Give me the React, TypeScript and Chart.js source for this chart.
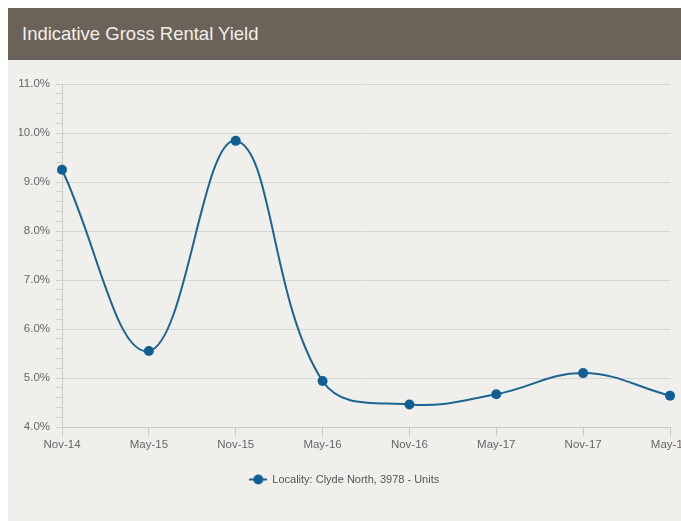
import React, { useEffect, useRef } from 'react';
import { Chart, registerables } from 'chart.js';

Chart.register(...registerables);

const chartTitle = 'Indicative Gross Rental Yield';
const categories = ['Nov-14', 'May-15', 'Nov-15', 'May-16', 'Nov-16', 'May-17', 'Nov-17', 'May-18'];
const yieldValues = [9.25, 5.55, 9.84, 4.94, 4.46, 4.67, 5.1, 4.64];
const seriesLabel = 'Locality: Clyde North, 3978 - Units';
const yMin = 4;
const yMax = 11;
const yMinorStep = 0.2;

const FONT = '"Liberation Sans", Arial, Helvetica, sans-serif';
const LINE_COLOR = '#1d6493';
const POINT_COLOR = '#0f5f93';

function isMajor(v: number) {
  return Math.abs(v - Math.round(v)) < 1e-6;
}

export default function App() {
  const ref = useRef<HTMLCanvasElement | null>(null);

  useEffect(() => {
    document.documentElement.style.overflow = 'hidden';
    document.body.style.overflow = 'hidden';
    if (!ref.current) return;
    const sym = document.createElement('canvas');
    sym.width = 18;
    sym.height = 11;
    const sc = sym.getContext('2d')!;
    sc.strokeStyle = LINE_COLOR;
    sc.lineWidth = 2;
    sc.beginPath();
    sc.moveTo(0, 5.5);
    sc.lineTo(18, 5.5);
    sc.stroke();
    sc.fillStyle = POINT_COLOR;
    sc.beginPath();
    sc.arc(9, 5.5, 5, 0, Math.PI * 2);
    sc.fill();

    const chart = new Chart(ref.current, {
      type: 'line',
      data: {
        labels: categories,
        datasets: [
          {
            label: seriesLabel,
            data: yieldValues,
            borderColor: LINE_COLOR,
            backgroundColor: POINT_COLOR,
            borderWidth: 2,
            tension: 0.4,
            pointRadius: 5,
            pointBackgroundColor: POINT_COLOR,
            pointBorderColor: POINT_COLOR,
            pointBorderWidth: 0,
            fill: false,
          },
        ],
      },
      options: {
        animation: false,
        responsive: false,
        devicePixelRatio: 1,
        layout: { padding: { left: 11, right: 58, top: 24, bottom: 26 } },
        plugins: {
          title: { display: false },
          tooltip: { enabled: false },
          legend: {
            display: true,
            position: 'bottom',
            labels: {
              usePointStyle: true,
              pointStyleWidth: 17,
              padding: 10,
              color: '#555',
              font: { family: FONT, size: 11 },
              generateLabels: (c: any) => {
                const items = Chart.defaults.plugins.legend.labels.generateLabels(c);
                return items.map((it: any) => ({ ...it, pointStyle: sym }));
              },
            },
          },
        },
        scales: {
          x: {
            type: 'category',
            offset: false,
            afterFit: (s: any) => {
              s.height = 37;
            },
            grid: {
              display: true,
              drawOnChartArea: false,
              drawTicks: true,
              tickLength: 9,
              color: '#c9c9c5',
            },
            border: { display: true, color: '#c9c9c5' },
            ticks: {
              color: '#666',
              padding: 2,
              maxRotation: 0,
              autoSkip: false,
              font: { family: FONT, size: 11.5 },
            },
          },
          y: {
            min: yMin,
            max: yMax,
            afterFit: (s: any) => {
              s.width = 43;
            },
            grid: {
              display: true,
              drawTicks: true,
              tickLength: 6,
              color: (ctx: any) => (ctx.tick && isMajor(ctx.tick.value) ? '#d6d6d2' : 'rgba(0,0,0,0)'),
              tickColor: '#cfcfcb',
            },
            border: { display: true, color: '#c9c9c5' },
            ticks: {
              stepSize: yMinorStep,
              autoSkip: false,
              color: '#666',
              padding: 6,
              font: { family: FONT, size: 11.5 },
              callback: (v: any) => (isMajor(Number(v)) ? `${Number(v).toFixed(1)}%` : ''),
            },
          },
        },
      },
    });
    return () => chart.destroy();
  }, []);

  return (
    <div style={{ position: 'absolute', left: 8, top: 8, width: 720, overflow: 'hidden' }}>
      <div
        style={{
          height: 52,
          lineHeight: '52px',
          background: '#6b6259',
          color: '#f3f0ea',
          fontFamily: FONT,
          fontSize: 18.5,
          paddingLeft: 14,
          whiteSpace: 'nowrap',
        }}
      >
        {chartTitle}
      </div>
      <div style={{ height: 461, background: '#f0efeb', position: 'relative' }}>
        <canvas ref={ref} width={720} height={461} style={{ display: 'block', width: 720, height: 461 }} />
      </div>
    </div>
  );
}
